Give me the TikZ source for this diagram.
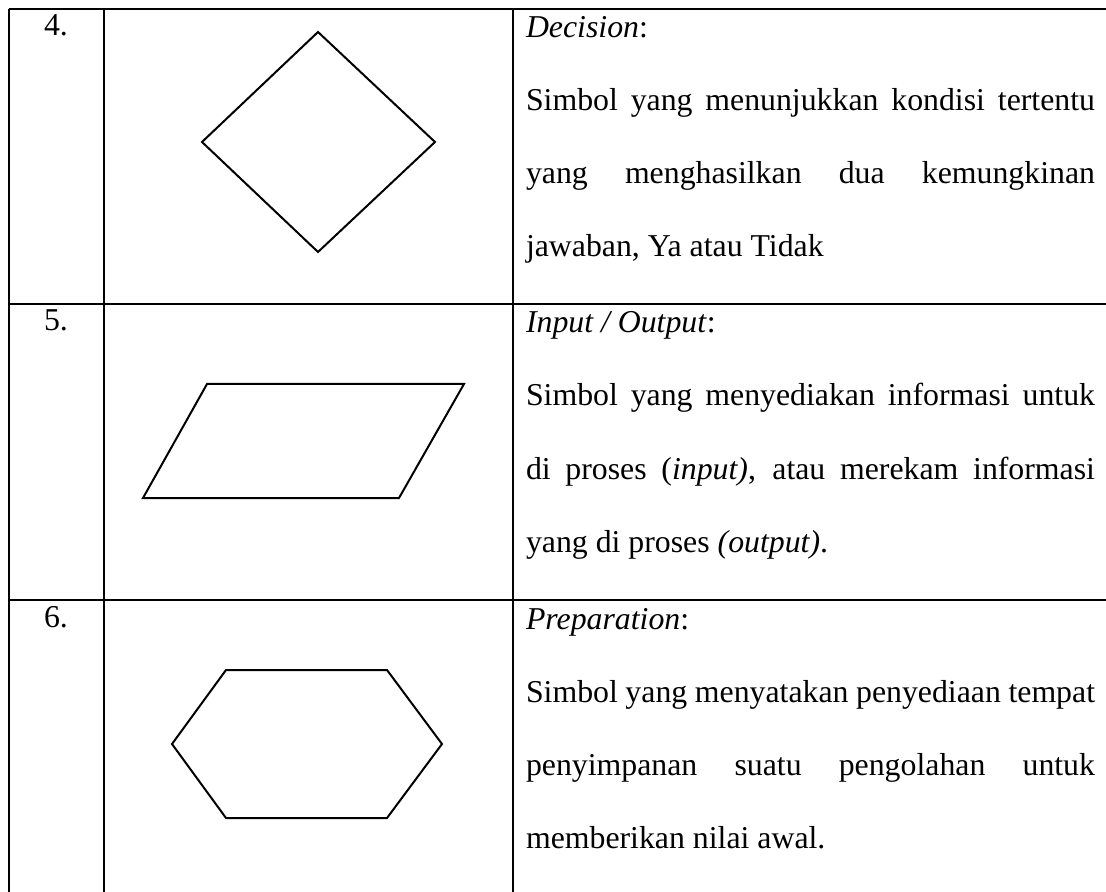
\documentclass[tikz,border=0pt]{standalone}
\usepackage{fontspec}
\setmainfont{Liberation Serif}
\newcommand{\jline}[1]{\makebox[284.5pt][s]{#1}}
\begin{document}
\begin{tikzpicture}[x=0.5pt,y=-0.5pt,every node/.style={inner sep=0pt, outer sep=0pt, font=\fontsize{15.9}{19}\selectfont},
  num/.style={anchor=base}, txt/.style={anchor=base west}, rule/.style={line width=1pt}, sym/.style={line width=1pt, line join=miter}]
\useasboundingbox (0,0) rectangle (1106,892);
% row 4
\node[num] (n4) at (56,36) {4.};
\node[txt] (t4a) at (526,38) {\textit{Decision}:};
\node[txt] (t4b) at (526,111) {\jline{Simbol yang menunjukkan kondisi tertentu}};
\node[txt] (t4c) at (526,184) {\jline{yang menghasilkan dua kemungkinan}};
\node[txt] (t4d) at (526,257) {jawaban, Ya atau Tidak};
\draw[sym] (318,32) -- (435,142) -- (318,252) -- (202,142) -- cycle;
% row 5
\node[num] (n5) at (56,331) {5.};
\node[txt] (t5a) at (526,333) {\textit{Input / Output}:};
\node[txt] (t5b) at (526,406) {\jline{Simbol yang menyediakan informasi untuk}};
\node[txt] (t5c) at (526,479) {\jline{di proses (\textit{input)}, atau merekam informasi}};
\node[txt] (t5d) at (526,552) {yang di proses \textit{(output)}.};
\draw[sym] (207,384) -- (464,384) -- (399,498) -- (143,498) -- cycle;
% row 6
\node[num] (n6) at (56,627) {6.};
\node[txt] (t6a) at (526,629) {\textit{Preparation}:};
\node[txt] (t6b) at (526,702) {\jline{Simbol yang menyatakan penyediaan tempat}};
\node[txt] (t6c) at (526,775) {\jline{penyimpanan suatu pengolahan untuk}};
\node[txt] (t6d) at (526,848) {memberikan nilai awal.};
\draw[sym] (226,670) -- (387,670) -- (442,744) -- (387,818) -- (226,818) -- (172,744) -- cycle;
% table lines
\begin{scope}
\clip (0,0) rectangle (1106,892);
\foreach \ry in {9,304,600} \draw[rule] (8.7,\ry) -- (1110,\ry);
\foreach \cx in {8.7,104.3,513.3} \draw[rule] (\cx,9) -- (\cx,900);
\end{scope}
\end{tikzpicture}
\end{document}
